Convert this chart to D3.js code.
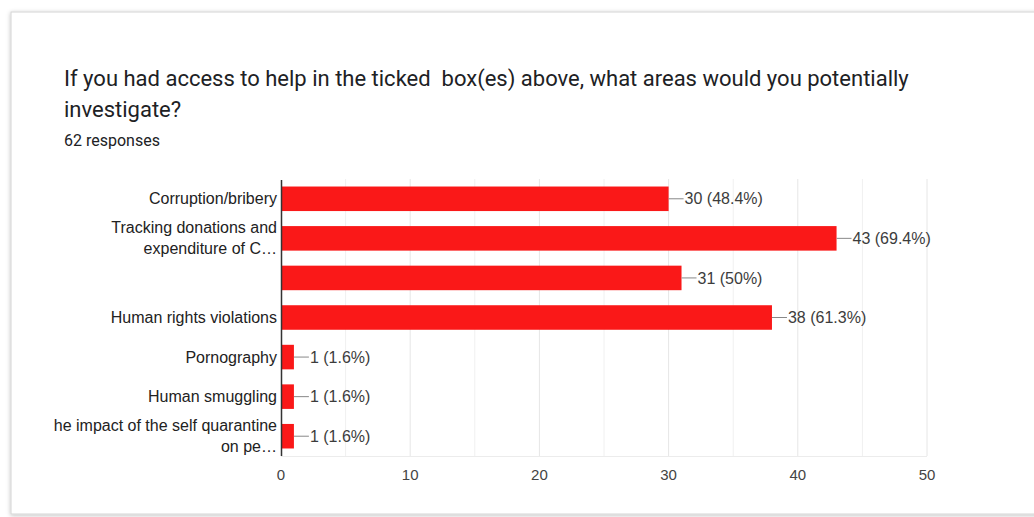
<!DOCTYPE html>
<html><head><meta charset="utf-8">
<script src="https://cdn.jsdelivr.net/npm/d3@7"></script>
<style>
html,body{margin:0;padding:0;background:#fff;}
svg{display:block;}
</style></head>
<body>
<script>
const titleLines = ["If you had access to help in the ticked  box(es) above, what areas would you potentially", "investigate?"];
const subtitle = "62 responses";
const categories = [
  ["Corruption/bribery"],
  ["Tracking donations and", "expenditure of C\u2026"],
  [""],
  ["Human rights violations"],
  ["Pornography"],
  ["Human smuggling"],
  ["he impact of the self quarantine", "on pe\u2026"]
];
const values = [30, 43, 31, 38, 1, 1, 1];
const valueLabels = ["30 (48.4%)", "43 (69.4%)", "31 (50%)", "38 (61.3%)", "1 (1.6%)", "1 (1.6%)", "1 (1.6%)"];
const xTicks = [0, 10, 20, 30, 40, 50];
const gridTicks = [5, 10, 15, 20, 25, 30, 35, 40, 45, 50];

const W = 1034, H = 517;
const svg = d3.select("body").append("svg").attr("width", W).attr("height", H);
const defs = svg.append("defs");
const f = defs.append("filter").attr("id","sh").attr("x","-5%").attr("y","-5%").attr("width","110%").attr("height","110%");
f.append("feDropShadow").attr("dx",0).attr("dy",1).attr("stdDeviation",2).attr("flood-color","#000").attr("flood-opacity",0.25);

svg.append("rect").attr("x",11).attr("y",12).attr("width",1040).attr("height",502)
  .attr("fill","#fff").attr("stroke","#d4d4d4").attr("stroke-width",1).attr("filter","url(#sh)");

const tg = svg.append("g");
titleLines.forEach((t,i)=>{
  tg.append("text").attr("x",64).attr("y",86 + i*31).text(t)
    .attr("font-family","Roboto, 'Open Sans', sans-serif").attr("font-size",22).attr("fill","#202124")
    .style("white-space","pre");
});
svg.append("text").attr("x",64).attr("y",146).text(subtitle)
  .attr("font-family","Roboto, sans-serif").attr("font-size",16).attr("fill","#202124");

const x = d3.scaleLinear().domain([0,50]).range([281,927]);
const y = d3.scaleBand().domain(d3.range(categories.length)).range([179,456]).paddingInner(0.38).paddingOuter(0.19);

const font = "'Liberation Sans', Arial, sans-serif";
// grid
svg.append("g").selectAll("line").data(gridTicks).join("line")
  .attr("x1",d=>x(d)).attr("x2",d=>x(d)).attr("y1",179).attr("y2",456)
  .attr("stroke",d=>d%10===0?"#e6e6e6":"#f0f0f0").attr("stroke-width",1);
svg.append("line").attr("x1",281).attr("x2",927).attr("y1",456.5).attr("y2",456.5).attr("stroke","#ececec");

// bars
svg.append("g").selectAll("rect").data(values).join("rect")
  .attr("x",x(0)).attr("y",(d,i)=>y(i)).attr("width",d=>x(d)-x(0)).attr("height",y.bandwidth())
  .attr("fill","#fa1818");

// axis line
svg.append("line").attr("x1",x(0)+0.5).attr("x2",x(0)+0.5).attr("y1",180).attr("y2",456).attr("stroke","#333").attr("stroke-width",1.5);

// leader lines and value labels
const vg = svg.append("g");
values.forEach((v,i)=>{
  const cy = y(i)+y.bandwidth()/2;
  vg.append("line").attr("x1",x(v)).attr("x2",x(v)+15).attr("y1",cy).attr("y2",cy).attr("stroke","#888").attr("stroke-width",1);
  vg.append("text").attr("x",x(v)+16).attr("y",cy).attr("dy","0.35em").text(valueLabels[i])
    .attr("font-family",font).attr("font-size",16).attr("fill","#3c3c3c");
});

// category labels
const cg = svg.append("g");
categories.forEach((lines,i)=>{
  const cy = y(i)+y.bandwidth()/2;
  const n = lines.length;
  lines.forEach((t,j)=>{
    cg.append("text").attr("x",277).attr("y",cy + (j-(n-1)/2)*21).attr("dy","0.35em")
      .attr("text-anchor","end").text(t)
      .attr("font-family",font).attr("font-size",16).attr("fill","#222");
  });
});

// x ticks
svg.append("g").selectAll("text").data(xTicks).join("text")
  .attr("x",d=>x(d)).attr("y",480).attr("text-anchor","middle").text(d=>d)
  .attr("font-family",font).attr("font-size",15).attr("fill","#444");
</script>
</body></html>
